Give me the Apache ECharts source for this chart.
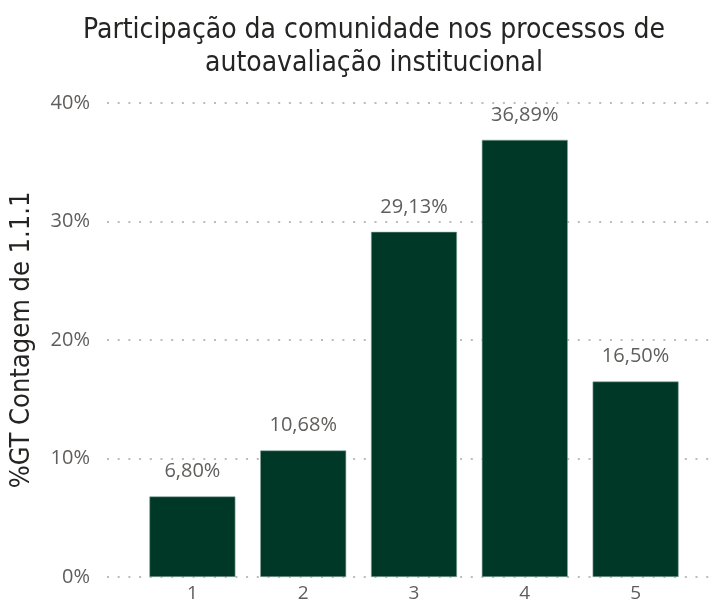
<!DOCTYPE html>
<html><head><meta charset="utf-8">
<script src="https://cdn.jsdelivr.net/npm/echarts@6/dist/echarts.min.js"></script>
<style>html,body{margin:0;padding:0;background:#fff}#c{width:718px;height:606px}</style>
</head><body><div id="c"></div>
<script>
const titleText = "Participação da comunidade nos processos de\nautoavaliação institucional";
const yAxisName = "%GT Contagem de 1.1.1";
const categories = ["1", "2", "3", "4", "5"];
const values = [0.0680, 0.1068, 0.2913, 0.3689, 0.1650];
const labels = ["6,80%", "10,68%", "29,13%", "36,89%", "16,50%"];
const yTicks = [0, 0.1, 0.2, 0.3, 0.4];

const titleFont = "'DejaVu Sans Condensed', sans-serif";
const bodyFont = "'Open Sans', 'Noto Sans', sans-serif";
const chart = echarts.init(document.getElementById('c'));
chart.setOption({
  animation: false,
  title: {
    text: titleText, left: 369, top: 9, textAlign: 'center',
    textStyle: { fontFamily: titleFont, fontSize: 28, fontWeight: 'normal', color: '#252423', lineHeight: 33, align: 'center' }
  },
  grid: [
    { left: 104, right: 3, top: 103, bottom: 29 },
    { left: 137, right: 27, top: 103, bottom: 29 }
  ],
  xAxis: [
    { gridIndex: 0, type: 'value', min: 0, max: 1, show: false },
    { gridIndex: 1, type: 'category', data: categories,
      axisLine: { show: false }, axisTick: { show: false },
      axisLabel: { color: '#605E5C', fontFamily: bodyFont, fontSize: 19, margin: 7 } }
  ],
  yAxis: [
    { gridIndex: 0, type: 'value', min: 0, max: 0.4, interval: 0.1,
      name: yAxisName, nameLocation: 'middle', nameGap: 72, nameRotate: 90,
      nameTextStyle: { fontFamily: titleFont, fontSize: 27, color: '#252423' },
      axisLine: { show: false }, axisTick: { show: false },
      axisLabel: { color: '#605E5C', fontFamily: bodyFont, fontSize: 20, margin: 17,
        formatter: v => Math.round(v * 100) + '%' },
      splitLine: { lineStyle: { color: '#BEBCBA', width: 2, type: [2, 8.7] } } },
    { gridIndex: 1, type: 'value', min: 0, max: 0.4, interval: 0.1, show: false, splitLine: { show: false } }
  ],
  series: [{
    type: 'bar', xAxisIndex: 1, yAxisIndex: 1,
    data: values, barWidth: 86,
    itemStyle: { color: '#003828', borderColor: '#8aa89e', borderWidth: 0.6 },
    label: { show: true, position: 'top', distance: 15, color: '#605E5C', fontFamily: bodyFont, fontSize: 20,
      formatter: p => labels[p.dataIndex] }
  }]
});
</script></body></html>
